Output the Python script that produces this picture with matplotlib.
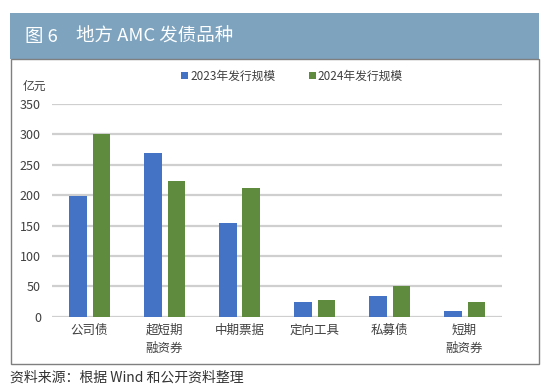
import numpy as np
import matplotlib
matplotlib.use("Agg")
import matplotlib.pyplot as plt
from matplotlib.patches import Rectangle

plt.rcParams['font.family'] = ['Noto Sans CJK SC', 'DejaVu Sans']

categories = ["公司债", "超短期\n融资券", "中期票据", "定向工具", "私募债", "短期\n融资券"]
issue_2023 = [198, 270, 155, 25, 34, 10]
issue_2024 = [300, 224, 212, 27, 50, 24]
series_names = ["2023年发行规模", "2024年发行规模"]

W, H = 550, 389
blue = "#4472C4"
green = "#5F8B3F"
header_col = "#7DA3BF"
text_col = "#404040"


def px(x, y):
    """pixel (top-left origin) -> figure fraction"""
    return x / W, 1 - y / H


fig = plt.figure(figsize=(W / 100, H / 100), dpi=100)

# header band + frame (behind the axes)
x0, y0 = px(10, 59)
fig.patches.append(Rectangle((x0, y0), 529 / W, 46 / H, transform=fig.transFigure,
                             facecolor=header_col, edgecolor="none", zorder=-2))
x0, y0 = px(11, 364)
fig.patches.append(Rectangle((x0, y0), 528 / W, 305 / H, transform=fig.transFigure,
                             facecolor="white", edgecolor="#7F7F7F", lw=1.0, zorder=-2))
fig.text(*px(25, 37), "图 6", color="white", fontsize=13.3, va="center", ha="left")
fig.text(*px(76, 37), "地方 AMC 发债品种", color="white", fontsize=13.3,
         va="center", ha="left")
fig.text(*px(10, 378), "资料来源：根据 Wind 和公开资料整理", color="#333333",
         fontsize=10, va="center", ha="left")
fig.text(*px(34, 86), "亿元", color=text_col, fontsize=8.5, va="center", ha="center")

l, b = px(52, 316.7)
ax = fig.add_axes([l, b, 450 / W, 212.7 / H])
x = np.arange(len(categories))
w = 0.23
ax.bar(x - 0.155, issue_2023, w, color=blue, label=series_names[0], zorder=3)
ax.bar(x + 0.155, issue_2024, w, color=green, label=series_names[1], zorder=3)

ax.set_xlim(-0.5, len(categories) - 0.5)
ax.set_ylim(0, 350)
ax.set_yticks(np.arange(0, 351, 50))
ax.yaxis.grid(True, color="#CFCFCF", lw=1.6, zorder=0)
ax.set_axisbelow(True)
for s in ax.spines.values():
    s.set_visible(False)
ax.tick_params(axis="both", length=0, labelsize=9, colors=text_col)
ax.tick_params(axis="y", pad=8)
ax.tick_params(axis="x", pad=5)
ax.set_xticks(x)
ax.set_xticklabels(categories, linespacing=1.5, va="top")
ax.patch.set_alpha(0)

leg = fig.legend(loc="center", bbox_to_anchor=px(292, 76), ncol=2, frameon=False,
                 fontsize=8.5, handlelength=0.6, handleheight=0.6, handletextpad=0.2,
                 columnspacing=2.8, labelcolor=text_col)

fig.savefig("out.png", dpi=100)
